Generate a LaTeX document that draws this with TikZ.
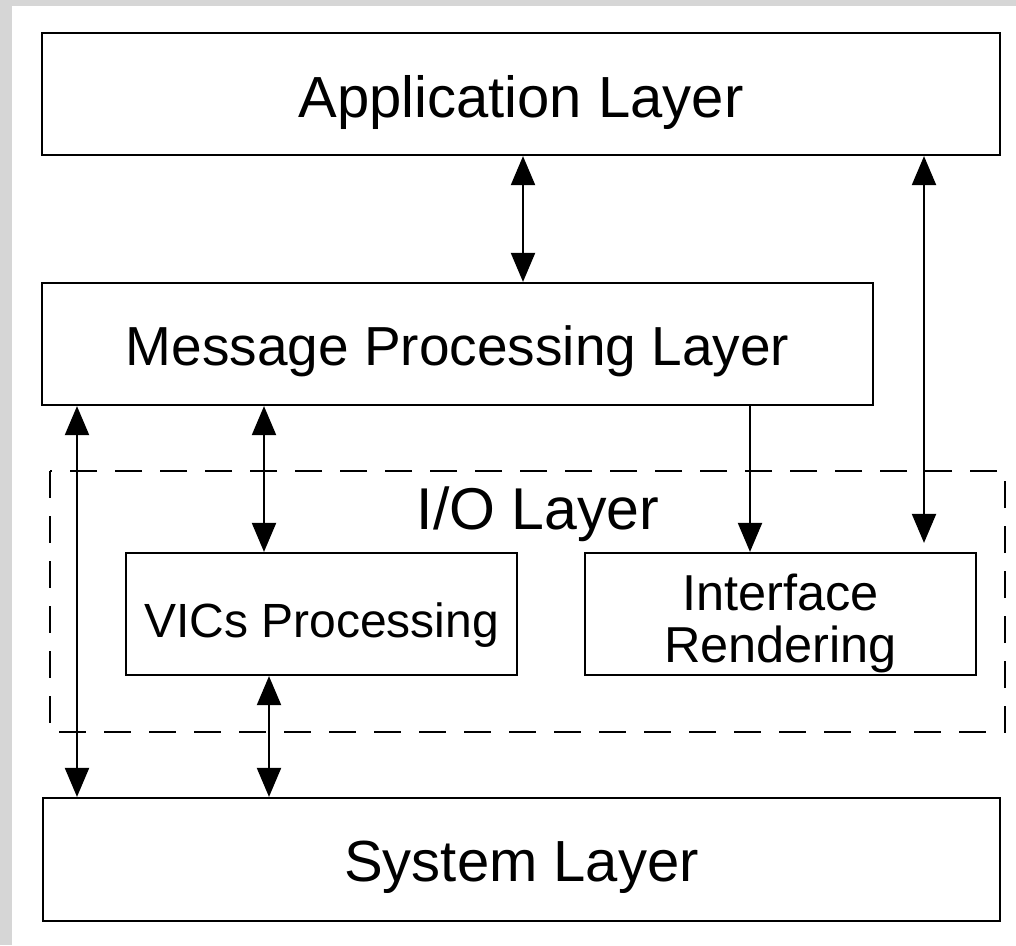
\documentclass[tikz,border=0pt]{standalone}
\usepackage{fontspec}
\setmainfont{Liberation Sans}
\usetikzlibrary{arrows.meta}
\definecolor{bggray}{RGB}{214,214,214}
\newcommand{\dn}[2]{\raisebox{-#1}[\height][\depth]{#2}}
\tikzset{
  layerbox/.style={draw=black, line width=2.2pt, rectangle, inner sep=0pt, fill=white},
  tip/.tip={Triangle[width=24pt,length=29pt]},
  conn/.style={line width=2.1pt, draw=black},
  both/.style={conn, tip-tip},
  one/.style={conn, -tip},
  iobox/.style={draw=black, line width=2pt, dash pattern=on 27pt off 18pt},
  fbig/.style={font=\fontsize{58}{60}\selectfont},
  fio/.style={font=\fontsize{59}{60}\selectfont},
  fmid/.style={font=\fontsize{55}{58}\selectfont},
  fsmall/.style={font=\fontsize{48}{54}\selectfont},
  firr/.style={font=\fontsize{50.5}{51}\selectfont},
}
\begin{document}
\begin{tikzpicture}[x=1pt,y=-1pt]
\useasboundingbox (0,0) rectangle (1016,945);
\fill[bggray] (0,0) rectangle (1016,945);
\fill[white] (12,6) rectangle (1016,945);
% dashed I/O layer
\draw[iobox] (50,471) rectangle (1005,732);
\node[fio, anchor=base] (iotext) at (538,529) {I/O Layer};
% boxes
\node[layerbox, minimum width=958pt, minimum height=122pt, fbig] (app) at (521,94) {\dn{9pt}{Application Layer}};
\node[layerbox, minimum width=831pt, minimum height=122pt, fmid] (msg) at (457.5,344) {\dn{7pt}{Message Processing Layer}};
\node[layerbox, minimum width=391pt, minimum height=122pt, fsmall] (vics) at (321.5,614) {\dn{11pt}{VICs Processing}};
\node[layerbox, minimum width=391pt, minimum height=122pt, firr] (ir) at (780.5,614) {\dn{12pt}{\begin{tabular}{@{}c@{}}Interface\\Rendering\end{tabular}}};
\node[layerbox, minimum width=957pt, minimum height=123pt, fbig] (sys) at (521.5,859.5) {\dn{8pt}{System Layer}};
% connectors
\draw[both] (523,0 |- app.south) -- (523,0 |- msg.north);
\draw[both, shorten >=9pt] (924,0 |- app.south) -- (924,0 |- ir.north);
\draw[one] (750,0 |- msg.south) -- (750,0 |- ir.north);
\draw[both] (77,0 |- msg.south) -- (77,0 |- sys.north);
\draw[both] (264,0 |- msg.south) -- (264,0 |- vics.north);
\draw[both] (269,0 |- vics.south) -- (269,0 |- sys.north);
\end{tikzpicture}
\end{document}
